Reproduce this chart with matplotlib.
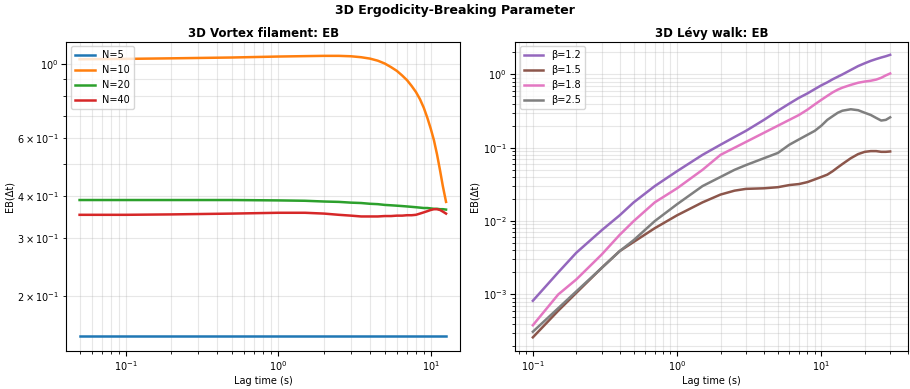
import matplotlib
matplotlib.use("Agg")
import matplotlib.pyplot as plt

# 3D vortex filament, EB vs lag time
t_vf = [0.05, 0.1, 0.2, 0.5, 1.0, 1.5, 2.0, 2.5, 3.0, 3.5, 4.0, 4.5, 5.0, 5.5, 6.0, 6.5, 7.0, 7.5, 8.0, 8.5, 9.0, 9.5, 10.0, 10.5, 11.0, 11.5, 12.0, 12.6]
eb_n5 = [0.152] * len(t_vf)
eb_n10 = [1.035, 1.038, 1.042, 1.048, 1.055, 1.058, 1.06, 1.06, 1.057, 1.05, 1.04, 1.025, 1.005, 0.98, 0.955, 0.925, 0.895, 0.86, 0.825, 0.785, 0.74, 0.69, 0.64, 0.59, 0.535, 0.48, 0.43, 0.385]
eb_n20 = [0.39, 0.39, 0.39, 0.39, 0.389, 0.388, 0.386, 0.385, 0.383, 0.382, 0.38, 0.379, 0.377, 0.376, 0.375, 0.374, 0.373, 0.372, 0.371, 0.37, 0.369, 0.369, 0.368, 0.367, 0.367, 0.366, 0.366, 0.365]
eb_n40 = [0.352, 0.352, 0.353, 0.355, 0.357, 0.357, 0.355, 0.352, 0.35, 0.348, 0.348, 0.348, 0.349, 0.349, 0.35, 0.35, 0.351, 0.351, 0.352, 0.355, 0.358, 0.361, 0.364, 0.366, 0.366, 0.364, 0.36, 0.355]
vf_labels = ["N=5", "N=10", "N=20", "N=40"]

# 3D Levy walk, EB vs lag time
t_lw = [0.1, 0.15, 0.2, 0.3, 0.4, 0.5, 0.7, 1.0, 1.5, 2.0, 2.5, 3.0, 4.0, 5.0, 6.0, 7.0, 8.0, 9.0, 10.0, 11.0, 12.0, 13.0, 14.0, 16.0, 18.0, 20.0, 22.0, 24.0, 26.0, 28.0, 30.0]
eb_b12 = [8.2e-4, 2.0e-3, 3.7e-3, 7.5e-3, 0.012, 0.018, 0.03, 0.048, 0.08, 0.11, 0.14, 0.17, 0.24, 0.32, 0.4, 0.48, 0.55, 0.63, 0.71, 0.78, 0.86, 0.93, 1.0, 1.15, 1.3, 1.42, 1.53, 1.62, 1.7, 1.77, 1.85]
eb_b15 = [2.6e-4, 6.0e-4, 1.05e-3, 2.3e-3, 3.9e-3, 5.2e-3, 8.0e-3, 0.012, 0.018, 0.023, 0.026, 0.0275, 0.028, 0.029, 0.031, 0.032, 0.034, 0.037, 0.04, 0.043, 0.048, 0.054, 0.06, 0.072, 0.082, 0.088, 0.09, 0.09, 0.088, 0.088, 0.089]
eb_b18 = [3.8e-4, 1.0e-3, 1.6e-3, 3.5e-3, 6.5e-3, 0.01, 0.018, 0.028, 0.05, 0.08, 0.1, 0.12, 0.16, 0.2, 0.24, 0.28, 0.33, 0.39, 0.45, 0.51, 0.57, 0.62, 0.66, 0.72, 0.77, 0.8, 0.82, 0.85, 0.9, 0.97, 1.03]
eb_b25 = [3.1e-4, 6.5e-4, 1.1e-3, 2.3e-3, 3.9e-3, 5.5e-3, 0.01, 0.017, 0.03, 0.04, 0.05, 0.058, 0.072, 0.085, 0.11, 0.13, 0.15, 0.17, 0.2, 0.24, 0.27, 0.3, 0.32, 0.335, 0.325, 0.3, 0.28, 0.255, 0.235, 0.24, 0.26]
lw_labels = ["β=1.2", "β=1.5", "β=1.8", "β=2.5"]

plt.rcParams['font.size'] = 7
plt.rcParams['xtick.major.pad'] = 2.5
plt.rcParams['ytick.major.pad'] = 2.5

fig, (ax1, ax2) = plt.subplots(1, 2, figsize=(9.1, 3.89), dpi=100)

for y, lab in zip([eb_n5, eb_n10, eb_n20, eb_n40], vf_labels):
    ax1.plot(t_vf, y, lw=1.8, label=lab)
ax1.set_xscale('log')
ax1.set_yscale('log')
ax1.set_ylim(0.137, 1.17)
ax1.set_xlim(0.041, 15.5)
ax1.set_title("3D Vortex filament: EB", fontsize=8.5, fontweight='bold', pad=3)
ax1.set_xlabel("Lag time (s)", labelpad=2)
ax1.set_ylabel("EB(Δt)", labelpad=2)
ax1.grid(True, which='both', alpha=0.3)
ax1.legend(loc='upper left')

colors = ['tab:purple', 'tab:brown', 'tab:pink', 'tab:gray']
for y, lab, c in zip([eb_b12, eb_b15, eb_b18, eb_b25], lw_labels, colors):
    ax2.plot(t_lw, y, lw=1.8, color=c, label=lab)
ax2.set_xscale('log')
ax2.set_yscale('log')
ax2.set_ylim(1.7e-4, 2.8)
ax2.set_xlim(0.075, 40)
ax2.set_title("3D Lévy walk: EB", fontsize=8.5, fontweight='bold', pad=3)
ax2.set_xlabel("Lag time (s)", labelpad=2)
ax2.set_ylabel("EB(Δt)", labelpad=2)
ax2.grid(True, which='both', alpha=0.3)
ax2.legend(loc='upper left')

fig.suptitle("3D Ergodicity-Breaking Parameter", fontsize=9, fontweight='bold', y=0.99)
fig.subplots_adjust(left=0.073, right=0.998, top=0.893, bottom=0.098, wspace=0.14)
fig.savefig("out.png")
